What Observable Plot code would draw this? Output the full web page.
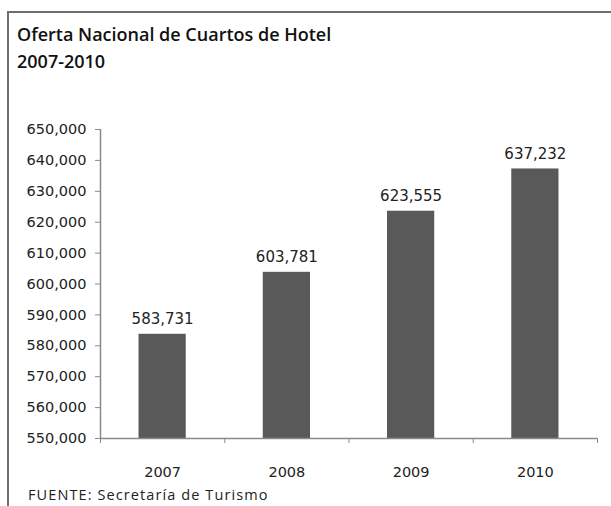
<!DOCTYPE html>
<html>
<head>
<meta charset="utf-8">
<script src="https://cdn.jsdelivr.net/npm/d3@7"></script>
<script src="https://cdn.jsdelivr.net/npm/@observablehq/plot@0.6"></script>
<style>
  html, body { margin: 0; padding: 0; background: #fff; }
  #wrap { position: relative; width: 611px; height: 506px; overflow: hidden; font-family: "DejaVu Sans", sans-serif; }
  #frame { position: absolute; left: 7px; top: 11px; width: 620px; height: 520px; border-left: 2px solid #6e6e6e; border-top: 2px solid #6e6e6e; }
  #title { position: absolute; left: 17px; top: 21px; font-family: "Open Sans", sans-serif; font-weight: 600; font-size: 18px; line-height: 27px; color: #111; }
  #chart { position: absolute; left: 0; top: 100px; }
  #source { position: absolute; left: 28px; top: 485px; font-family: "Open Sans", sans-serif; font-weight: 400; font-size: 14.5px; letter-spacing: 1.1px; color: #222; }
</style>
</head>
<body>
<div id="wrap">
  <div id="frame"></div>
  <div id="title">Oferta Nacional de Cuartos de Hotel<br>2007-2010</div>
  <div id="chart"></div>
  <div id="source">FUENTE: Secretaría de Turismo</div>
</div>
<script>
const years = ["2007", "2008", "2009", "2010"];
const rooms = [583731, 603781, 623555, 637232];
const yTicks = [550000, 560000, 570000, 580000, 590000, 600000, 610000, 620000, 630000, 640000, 650000];

const data = years.map((year, i) => ({year, rooms: rooms[i], i}));
const fmt = d3.format(",");

const chart = Plot.plot({
  width: 611,
  height: 392,
  marginTop: 29,
  marginBottom: 54,
  marginLeft: 100,
  marginRight: 14,
  style: {fontFamily: "DejaVu Sans, sans-serif", fontSize: "14px", color: "#222", background: "transparent"},
  x: {type: "linear", domain: [0, years.length], label: null},
  y: {domain: [550000, 650000], label: null},
  marks: [
    Plot.rectY(data, {x1: d => d.i + 0.31, x2: d => d.i + 0.69, y1: 550000, y2: "rooms", fill: "#595959"}),
    Plot.ruleX([0], {stroke: "#8a8a8a", strokeWidth: 1.5}),
    Plot.ruleY([550000], {stroke: "#8a8a8a", strokeWidth: 1.5}),
    Plot.axisY({ticks: yTicks, tickFormat: fmt, tickSize: 5, tickPadding: 9, stroke: "#8a8a8a", fontSize: 14.5, fill: "#222", label: null}),
    Plot.axisX({ticks: d3.range(years.length + 1), tickFormat: () => "", tickSize: 5, stroke: "#8a8a8a", label: null}),
    Plot.axisX({ticks: data.map(d => d.i + 0.5), tickFormat: (t) => years[Math.floor(t)], tickSize: 0, tickPadding: 28, fontSize: 14.5, fill: "#222", label: null}),
    Plot.text(data, {x: d => d.i + 0.5, y: "rooms", text: d => fmt(d.rooms), dy: -15, fontSize: 15, fill: "#222"})
  ]
});
document.getElementById("chart").appendChild(chart);
</script>
</body>
</html>
